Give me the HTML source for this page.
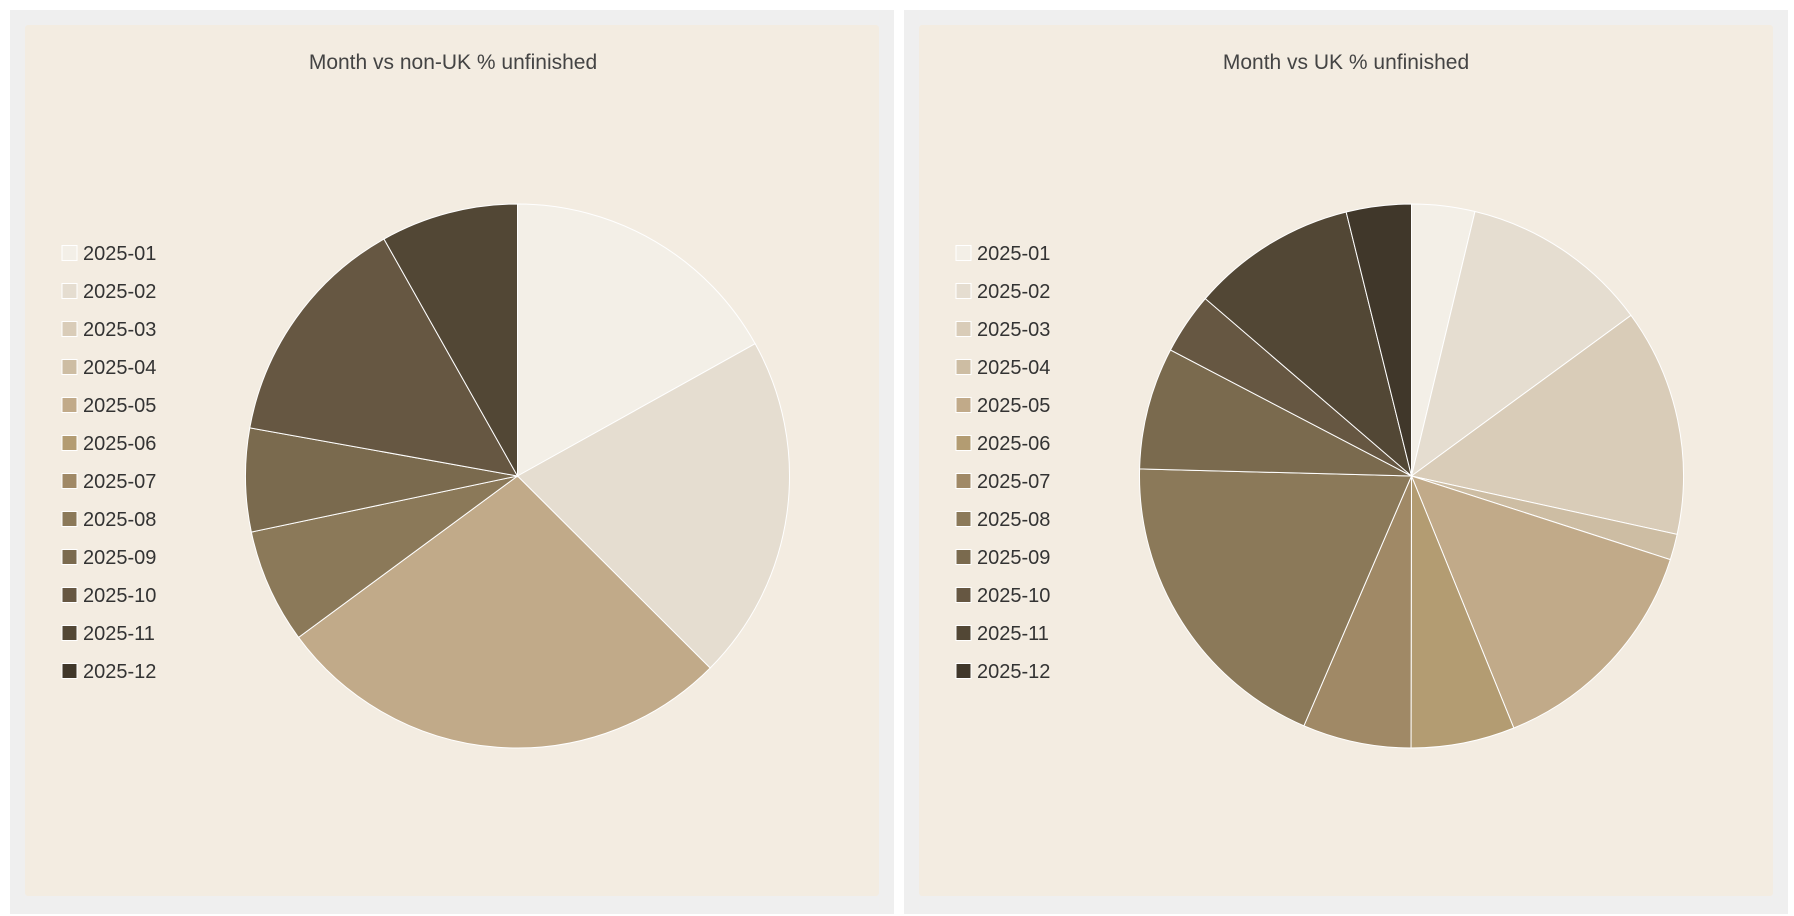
<!DOCTYPE html>
<html><head><meta charset="utf-8"><style>
body{margin:0;background:#fff;width:1794px;height:916px;overflow:hidden}
svg{display:block}
text{font-family:"Liberation Sans",sans-serif}
</style></head><body>
<svg id="s" width="1794" height="916" xmlns="http://www.w3.org/2000/svg">
<rect x="10" y="10" width="884" height="904" fill="#efefef"/>
<rect x="904" y="10" width="884" height="904" fill="#efefef"/>
<rect x="25" y="25" width="854" height="871" rx="3" fill="#f3ece1"/>
<rect x="919" y="25" width="854" height="871" rx="3" fill="#f3ece1"/>
<text x="453" y="69" font-size="21" fill="#444" text-anchor="middle">Month vs non-UK % unfinished</text>
<text x="1346" y="69" font-size="21" fill="#444" text-anchor="middle">Month vs UK % unfinished</text>
<g id="g"></g>
</svg>
<script>
var cols=["#f3efe7","#e5ddd0","#d9ccb8","#cdbda3","#c1aa89","#b39c72","#a08966","#8b7959","#7a6a4e","#665742","#524735","#40372a"];
var A=[[0,60.9,134.9,134.9,134.9,233.6,233.6,233.6,258.1,280.2,330.6,360,360],
[0,13.5,53.8,102.4,107.9,157.9,180.1,203.3,271.5,297.6,310.7,346.1,360]];
var cx=[517.5,1411.5],cy=476,r=272,h="";
function pt(c,a){a=a*Math.PI/180;return (c+r*Math.sin(a)).toFixed(2)+","+(cy-r*Math.cos(a)).toFixed(2);}
for(var p=0;p<2;p++){
 for(var i=0;i<12;i++){var a0=A[p][i],a1=A[p][i+1];if(a1-a0<0.01)continue;
  h+='<path d="M'+cx[p]+','+cy+' L'+pt(cx[p],a0)+' A'+r+','+r+' 0 '+(a1-a0>180?1:0)+' 1 '+pt(cx[p],a1)+' Z" fill="'+cols[i]+'" stroke="#fff" stroke-width="1"/>';}
 var lx=p?956:62;
 for(var i=0;i<12;i++){var y=253+i*38;
  h+='<rect x="'+lx+'" y="'+(y-7.5)+'" width="15" height="15" fill="'+cols[i]+'" stroke="#fff" stroke-width="1"/>';
  h+='<text x="'+(lx+21)+'" y="'+(y+7)+'" font-size="20" fill="#333">2025-'+(i<9?'0':'')+(i+1)+'</text>';}
}
document.getElementById("g").innerHTML=h;
</script>
</body></html>
